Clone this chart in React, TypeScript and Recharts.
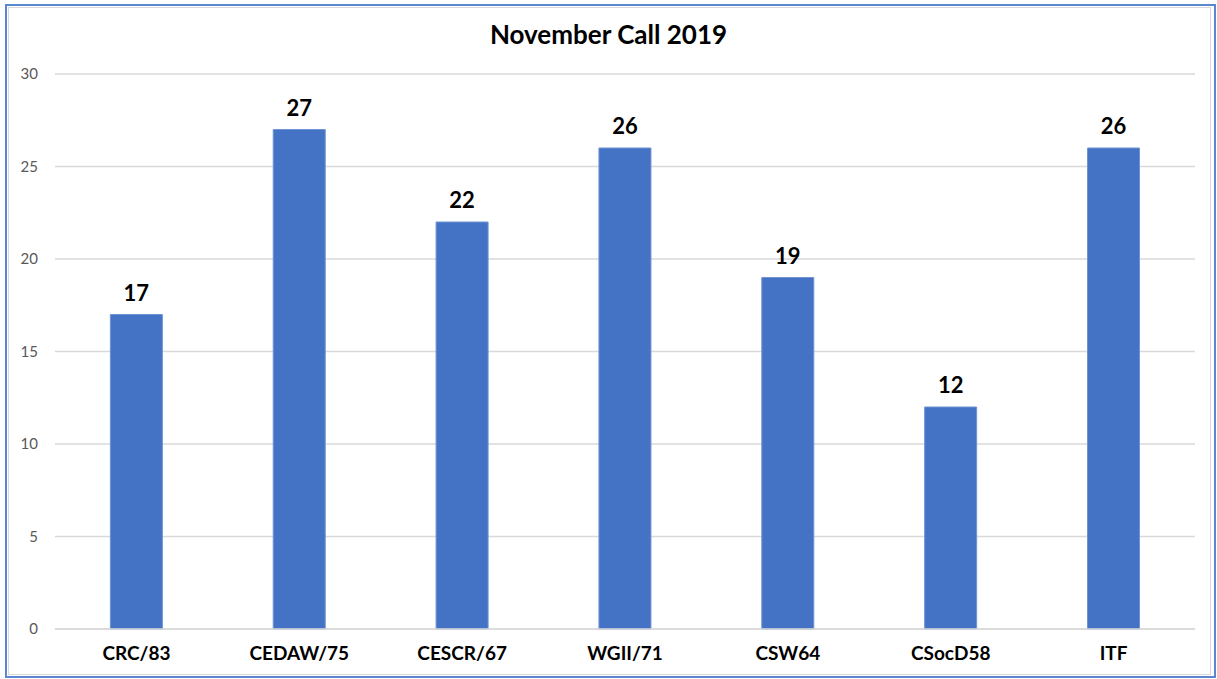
import React from 'react';
import { BarChart, Bar, XAxis, YAxis, CartesianGrid, LabelList } from 'recharts';

const categories = ['CRC/83', 'CEDAW/75', 'CESCR/67', 'WGII/71', 'CSW64', 'CSocD58', 'ITF'];
const values = [17, 27, 22, 26, 19, 12, 26];
const yTicks = [0, 5, 10, 15, 20, 25, 30];

const data = categories.map((name, i) => ({ name, value: values[i] }));

const FONT = 'Lato, "Open Sans", sans-serif';

export default function App() {
  return (
    <div style={{ position: 'absolute', left: 0, top: 0, width: 1217, height: 679, background: '#fff', fontFamily: FONT }}>
      <div style={{ position: 'absolute', left: 5, top: 4, width: 1207, height: 670, border: '2px solid #5B86D0', boxSizing: 'content-box' }} />
      <div style={{ position: 'absolute', left: 8, top: 7, width: 1203, height: 668, border: '1px solid #D9D9D9', boxSizing: 'border-box' }} />
      <div style={{ position: 'absolute', left: 0, top: 19, width: 1217, textAlign: 'center', fontSize: 26, fontWeight: 700, color: '#000', lineHeight: '30px' }}>
        November Call 2019
      </div>
      <div style={{ position: 'absolute', left: 0, top: 0 }}>
        <BarChart width={1217} height={679} data={data} margin={{ top: 74, right: 22, bottom: 0, left: 0 }} barCategoryGap="34%">
          <CartesianGrid vertical={false} stroke="#D9D9D9" strokeWidth={1.5} />
          <XAxis
            dataKey="name"
            height={50}
            axisLine={{ stroke: '#D9D9D9', strokeWidth: 1.5 }}
            tickLine={false}
            tick={{ fill: '#000', fontSize: 19, fontWeight: 700, fontFamily: FONT }}
            tickMargin={12}
          />
          <YAxis
            width={55}
            domain={[0, 30]}
            ticks={yTicks}
            axisLine={false}
            tickLine={false}
            tickMargin={11}
            tick={{ fill: '#595959', fontSize: 15, fontFamily: FONT }}
          />
          <Bar dataKey="value" fill="#4472C4" stroke="#6F93D3" strokeWidth={1} isAnimationActive={false}>
            <LabelList dataKey="value" position="top" offset={14} style={{ fill: '#000', fontSize: 22, fontWeight: 700, fontFamily: FONT }} />
          </Bar>
        </BarChart>
      </div>
    </div>
  );
}
